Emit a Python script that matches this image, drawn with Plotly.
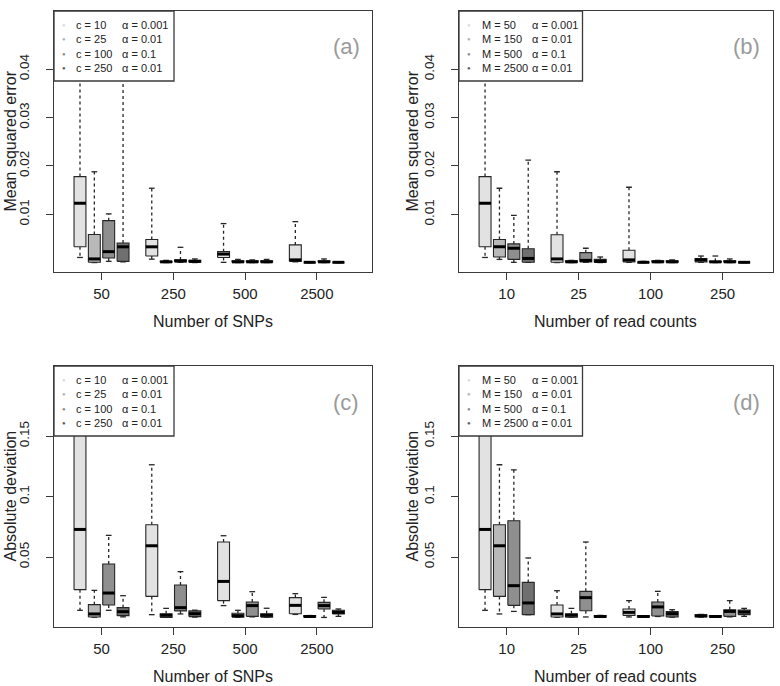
import plotly.graph_objects as go

W, H = 780, 686

# ---------------- data ----------------
SNP_LABELS = ["50", "250", "500", "2500"]
READ_LABELS = ["10", "25", "100", "250"]
C_NAMES = ["c = 10", "c = 25", "c = 100", "c = 250"]
M_NAMES = ["M = 50", "M = 150", "M = 500", "M = 2500"]
ALPHA_NAMES = ["\u03b1 = 0.001", "\u03b1 = 0.01", "\u03b1 = 0.1", "\u03b1 = 0.01"]

# panel (a): MSE vs number of SNPs (rows: series c=10,25,100,250 ; cols: groups)
A_LOW = [[0.0011, 0.00075, 0.0001, 0.0002],
         [0.00005, 0.00005, 0.00005, 0.00002],
         [0.0003, 0.0001, 0.00005, 0.00005],
         [0.0002, 0.00005, 0.00005, 0.00002]]
A_Q1 = [[0.0033, 0.0014, 0.0011, 0.0003],
        [0.0001, 0.0001, 0.0001, 0.00005],
        [0.0010, 0.0002, 0.0001, 0.0001],
        [0.0003, 0.0001, 0.0001, 0.00005]]
A_MED = [[0.0123, 0.0033, 0.0018, 0.0006],
         [0.0008, 0.0002, 0.0002, 0.0001],
         [0.0023, 0.0004, 0.0002, 0.0002],
         [0.0033, 0.0003, 0.0002, 0.0001]]
A_Q3 = [[0.0178, 0.0048, 0.0023, 0.0037],
        [0.00585, 0.0003, 0.0004, 0.0002],
        [0.0087, 0.0006, 0.0004, 0.0004],
        [0.0041, 0.0005, 0.0004, 0.0002]]
A_HIGH = [[0.0500, 0.0154, 0.0081, 0.0085],
          [0.0188, 0.0005, 0.0007, 0.0002],
          [0.0101, 0.0032, 0.0006, 0.0008],
          [0.0460, 0.0008, 0.0007, 0.0002]]

# panel (b): MSE vs number of read counts (rows: M=50,150,500,2500)
B_LOW = [[0.0011, 0.00005, 0.0001, 0.0001],
         [0.0007, 0.00005, 0.00002, 0.00005],
         [0.0001, 0.0001, 0.00005, 0.00005],
         [0.0001, 0.00005, 0.00005, 0.00002]]
B_Q1 = [[0.0033, 0.0001, 0.0002, 0.0002],
        [0.0012, 0.0001, 0.00005, 0.0001],
        [0.0007, 0.0002, 0.0001, 0.0001],
        [0.0001, 0.0001, 0.0001, 0.00005]]
B_MED = [[0.0123, 0.0008, 0.0006, 0.0006],
         [0.0033, 0.0002, 0.0001, 0.0002],
         [0.0030, 0.0005, 0.0002, 0.0002],
         [0.0009, 0.0003, 0.0002, 0.0001]]
B_Q3 = [[0.0178, 0.0058, 0.0026, 0.0009],
        [0.0048, 0.0004, 0.0002, 0.0003],
        [0.0039, 0.0021, 0.0004, 0.0004],
        [0.0029, 0.0007, 0.0004, 0.0002]]
B_HIGH = [[0.0500, 0.0188, 0.0156, 0.0014],
          [0.0154, 0.0005, 0.0003, 0.0014],
          [0.0098, 0.0030, 0.0005, 0.0008],
          [0.0212, 0.0012, 0.0006, 0.0002]]

# panel (c): absolute deviation vs number of SNPs
C_LOW = [[0.0059, 0.0023, 0.0098, 0.0025],
         [0.0002, 0.0001, 0.0001, 0.0001],
         [0.0059, 0.0029, 0.0005, 0.0000],
         [0.0005, 0.0003, 0.0002, 0.0009]]
C_Q1 = [[0.0230, 0.0174, 0.0139, 0.0031],
        [0.0004, 0.0001, 0.0003, 0.0002],
        [0.0103, 0.0054, 0.0009, 0.0070],
        [0.0015, 0.0007, 0.0003, 0.0029]]
C_MED = [[0.0728, 0.0593, 0.0298, 0.0100],
         [0.0029, 0.0018, 0.0015, 0.0008],
         [0.0202, 0.0081, 0.0098, 0.0098],
         [0.0048, 0.0031, 0.0018, 0.0042]]
C_Q3 = [[0.1700, 0.0767, 0.0624, 0.0164],
        [0.0106, 0.0031, 0.0035, 0.0015],
        [0.0442, 0.0268, 0.0128, 0.0125],
        [0.0081, 0.0054, 0.0031, 0.0059]]
C_HIGH = [[0.2000, 0.1263, 0.0676, 0.0197],
          [0.0224, 0.0075, 0.0059, 0.0016],
          [0.0679, 0.0379, 0.0213, 0.0166],
          [0.0180, 0.0060, 0.0076, 0.0070]]

# panel (d): absolute deviation vs number of read counts
D_LOW = [[0.0059, 0.0002, 0.0004, 0.0002],
         [0.0029, 0.0001, 0.0001, 0.0001],
         [0.0050, 0.0004, 0.0008, 0.0005],
         [0.0023, 0.0001, 0.0002, 0.0009]]
D_Q1 = [[0.0230, 0.0004, 0.0017, 0.0004],
        [0.0174, 0.0002, 0.0002, 0.0002],
        [0.0100, 0.0056, 0.0012, 0.0009],
        [0.0023, 0.0002, 0.0004, 0.0023]]
D_MED = [[0.0728, 0.0029, 0.0042, 0.0014],
         [0.0593, 0.0018, 0.0008, 0.0008],
         [0.0263, 0.0164, 0.0087, 0.0050],
         [0.0120, 0.0008, 0.0031, 0.0045]]
D_Q3 = [[0.1700, 0.0103, 0.0070, 0.0022],
        [0.0767, 0.0031, 0.0015, 0.0015],
        [0.0800, 0.0216, 0.0128, 0.0064],
        [0.0290, 0.0015, 0.0048, 0.0062]]
D_HIGH = [[0.2000, 0.0221, 0.0139, 0.0025],
          [0.1263, 0.0075, 0.0015, 0.0015],
          [0.1221, 0.0624, 0.0216, 0.0139],
          [0.0492, 0.0017, 0.0064, 0.0075]]

MSE_TICKS = [0.01, 0.02, 0.03, 0.04]
AD_TICKS = [0.05, 0.1, 0.15]

# ---------------- style ----------------
FONT = "Liberation Sans, Arial, Helvetica, sans-serif"
FILLS = ["#e2e2e2", "#b9b9b9", "#8f8f8f", "#707070"]
DOTS = ["#dcdcdc", "#b4b4b4", "#8c8c8c", "#5e5e5e"]
EDGE = "#262626"
FRAME = "#3a3a3a"
OFFS = [-0.30, -0.10, 0.10, 0.30]
BHW = 0.083   # box half width (x units)
CHW = 0.040   # staple half width

# panel pixel boxes: (left, top, right, bottom)
PANELS = [
    dict(px=(54, 11, 372, 272), xr=(0.338, 4.768), yr=(-0.0019, 0.052),
         data=(A_LOW, A_Q1, A_MED, A_Q3, A_HIGH), labels=SNP_LABELS, names=C_NAMES,
         ticks=MSE_TICKS, ticktext=["0.01", "0.02", "0.03", "0.04"],
         xtitle="Number of SNPs", ytitle="Mean squared error", tag="(a)",
         leg_w=120, txt_dx=20, alpha_dx=66, ytx=10),
    dict(px=(459, 11, 772.5, 272), xr=(0.338, 4.694), yr=(-0.0019, 0.052),
         data=(B_LOW, B_Q1, B_MED, B_Q3, B_HIGH), labels=READ_LABELS, names=M_NAMES,
         ticks=MSE_TICKS, ticktext=["0.01", "0.02", "0.03", "0.04"],
         xtitle="Number of read counts", ytitle="Mean squared error", tag="(b)",
         leg_w=123.5, txt_dx=21, alpha_dx=71, ytx=412),
    dict(px=(54, 366, 372, 627), xr=(0.338, 4.768), yr=(-0.0079, 0.208),
         data=(C_LOW, C_Q1, C_MED, C_Q3, C_HIGH), labels=SNP_LABELS, names=C_NAMES,
         ticks=AD_TICKS, ticktext=["0.05", "0.1", "0.15"],
         xtitle="Number of SNPs", ytitle="Absolute deviation", tag="(c)",
         leg_w=120, txt_dx=20, alpha_dx=66, ytx=10),
    dict(px=(459, 366, 772.5, 627), xr=(0.338, 4.694), yr=(-0.0079, 0.208),
         data=(D_LOW, D_Q1, D_MED, D_Q3, D_HIGH), labels=READ_LABELS, names=M_NAMES,
         ticks=AD_TICKS, ticktext=["0.05", "0.1", "0.15"],
         xtitle="Number of read counts", ytitle="Absolute deviation", tag="(d)",
         leg_w=123.5, txt_dx=21, alpha_dx=71, ytx=412),
]


def px_x(x):
    return x / W


def px_y(y):
    return 1 - y / H


fig = go.Figure()
shapes = []
annotations = []
layout = dict(width=W, height=H, margin=dict(l=0, r=0, t=0, b=0),
              paper_bgcolor="white", plot_bgcolor="white", showlegend=False,
              font=dict(family=FONT, color="#222"))

for i, p in enumerate(PANELS):
    n = "" if i == 0 else str(i + 1)
    xa, ya = "x" + n, "y" + n
    L, T, R, B = p["px"]
    low, q1, med, q3, high = p["data"]

    for s in range(4):
        wx, wy, cx, cy, bx, by, mx, my = [], [], [], [], [], [], [], []
        for g in range(4):
            xc = g + 1 + OFFS[s]
            wx += [xc, xc, None, xc, xc, None]
            wy += [q3[s][g], high[s][g], None, q1[s][g], low[s][g], None]
            cx += [xc - CHW, xc + CHW, None, xc - CHW, xc + CHW, None]
            cy += [high[s][g], high[s][g], None, low[s][g], low[s][g], None]
            bx += [xc - BHW, xc + BHW, xc + BHW, xc - BHW, xc - BHW, None]
            by += [q1[s][g], q1[s][g], q3[s][g], q3[s][g], q1[s][g], None]
            mx += [xc - BHW, xc + BHW, None]
            my += [med[s][g], med[s][g], None]
        fig.add_trace(go.Scatter(x=wx, y=wy, mode="lines", xaxis=xa, yaxis=ya,
                                 line=dict(color=EDGE, width=1.3, dash="3px,3px"),
                                 hoverinfo="skip"))
        fig.add_trace(go.Scatter(x=cx, y=cy, mode="lines", xaxis=xa, yaxis=ya,
                                 line=dict(color=EDGE, width=1.3), hoverinfo="skip"))
        fig.add_trace(go.Scatter(x=bx, y=by, mode="lines", xaxis=xa, yaxis=ya,
                                 fill="toself", fillcolor=FILLS[s],
                                 line=dict(color=EDGE, width=1.1), hoverinfo="skip",
                                 name=p["names"][s]))
        fig.add_trace(go.Scatter(x=mx, y=my, mode="lines", xaxis=xa, yaxis=ya,
                                 line=dict(color="black", width=3), hoverinfo="skip"))

    layout["xaxis" + n] = dict(
        domain=[px_x(L), px_x(R)], range=list(p["xr"]), anchor=ya,
        tickmode="array", tickvals=[1, 2, 3, 4], ticktext=p["labels"],
        ticks="outside", ticklen=7, tickwidth=1, tickcolor=FRAME,
        showline=True, linecolor=FRAME, linewidth=1.3, mirror=True,
        showgrid=False, zeroline=False, ticklabelstandoff=1,
        tickfont=dict(family=FONT, size=15, color="#222"))
    layout["yaxis" + n] = dict(
        domain=[px_y(B), px_y(T)], range=list(p["yr"]), anchor=xa,
        tickmode="array", tickvals=p["ticks"], ticktext=p["ticktext"],
        tickangle=-90, ticks="outside", ticklen=7, tickwidth=1, tickcolor=FRAME,
        showline=True, linecolor=FRAME, linewidth=1.3, mirror=True,
        showgrid=False, zeroline=False, ticklabelstandoff=11,
        tickfont=dict(family=FONT, size=13.5, color="#222"))

    annotations.append(dict(text=p["xtitle"], xref="paper", yref="paper",
                            x=px_x((L + R) / 2), y=px_y(B + 49), showarrow=False,
                            xanchor="center", yanchor="middle",
                            font=dict(family=FONT, size=16, color="#222")))
    annotations.append(dict(text=p["ytitle"], xref="paper", yref="paper",
                            x=px_x(p["ytx"]), y=px_y((T + B) / 2), showarrow=False,
                            textangle=-90, xanchor="center", yanchor="middle",
                            font=dict(family=FONT, size=16, color="#222")))
    annotations.append(dict(text=p["tag"], xref="paper", yref="paper",
                            x=px_x(R - 26), y=px_y(T + 36), showarrow=False,
                            xanchor="center", yanchor="middle",
                            font=dict(family=FONT, size=22, color="#9a9a9a")))
    shapes.append(dict(type="rect", xref="paper", yref="paper", layer="above",
                       x0=px_x(L), x1=px_x(L + p["leg_w"]),
                       y0=px_y(T + 70), y1=px_y(T),
                       fillcolor="white", line=dict(color=FRAME, width=1.3)))
    for s in range(4):
        yy = px_y(T + 14 + 14.4 * s)
        annotations.append(dict(text="\u25cf", xref="paper", yref="paper",
                                x=px_x(L + 10), y=yy, showarrow=False,
                                xanchor="center", yanchor="middle",
                                font=dict(family=FONT, size=6, color=DOTS[s])))
        annotations.append(dict(text=p["names"][s], xref="paper", yref="paper",
                                x=px_x(L + p["txt_dx"]), y=yy, showarrow=False,
                                xanchor="left", yanchor="middle",
                                font=dict(family=FONT, size=11, color="#222")))
        annotations.append(dict(text=ALPHA_NAMES[s], xref="paper", yref="paper",
                                x=px_x(L + p["alpha_dx"]), y=yy, showarrow=False,
                                xanchor="left", yanchor="middle",
                                font=dict(family=FONT, size=11, color="#222")))

layout["shapes"] = shapes
layout["annotations"] = annotations
fig.update_layout(**layout)
fig.write_html("out.html")
